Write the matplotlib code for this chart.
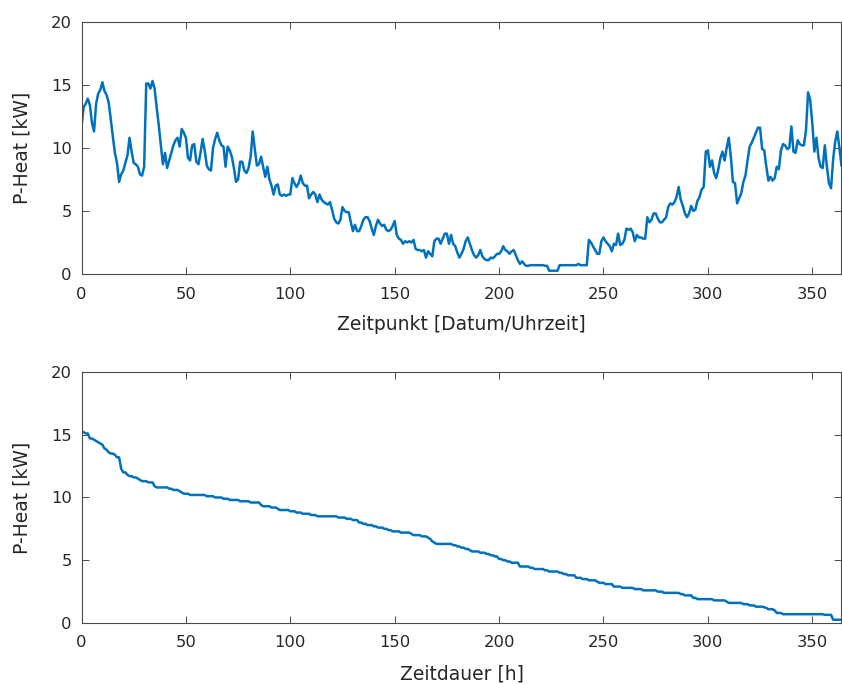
import numpy as np
import matplotlib.pyplot as plt

# daily heating power [kW] (day 0..364)
p_heat = [
    11.7, 13.2, 13.5, 13.9, 13.4, 12.0, 11.3, 13.5, 14.3, 14.6,
    15.2, 14.5, 14.2, 13.6, 12.3, 10.9, 9.6, 8.8, 7.3, 7.9,
    8.2, 8.8, 9.4, 10.8, 9.7, 8.8, 8.7, 8.5, 7.9, 7.8,
    8.5, 15.1, 15.1, 14.7, 15.3, 14.7, 13.2, 11.8, 10.2, 8.7,
    9.6, 8.4, 9.0, 9.6, 10.2, 10.6, 10.8, 10.1, 11.5, 11.2,
    10.8, 9.2, 9.0, 10.2, 10.3, 8.9, 8.7, 9.6, 10.7, 9.8,
    8.6, 8.3, 8.2, 10.0, 10.7, 11.2, 10.6, 10.2, 10.1, 8.5,
    10.1, 9.8, 9.3, 8.4, 7.3, 7.5, 8.9, 8.9, 8.2, 8.0,
    8.4, 9.3, 11.3, 9.9, 8.6, 8.7, 9.3, 8.5, 7.7, 8.5,
    7.5, 7.0, 6.3, 7.0, 7.1, 6.3, 6.2, 6.3, 6.2, 6.3,
    6.3, 7.6, 7.2, 6.9, 7.2, 7.8, 7.2, 7.0, 7.0, 6.0,
    6.3, 6.5, 6.3, 5.7, 6.3, 5.9, 5.7, 5.6, 5.5, 5.7,
    5.1, 4.4, 4.1, 4.0, 4.3, 5.3, 5.0, 4.9, 4.9, 4.1,
    3.4, 3.9, 3.4, 3.4, 3.8, 4.3, 4.5, 4.5, 4.2, 3.6,
    3.1, 3.8, 4.3, 4.0, 3.8, 3.9, 3.5, 3.4, 3.5, 3.8,
    4.2, 3.1, 2.8, 2.7, 2.4, 2.6, 2.5, 2.6, 2.5, 2.7,
    2.0, 1.9, 1.9, 1.8, 1.9, 1.3, 1.8, 1.6, 1.4, 2.6,
    2.8, 2.8, 2.4, 2.8, 3.2, 3.2, 2.4, 3.1, 2.4, 2.2,
    1.7, 1.3, 1.6, 2.0, 2.6, 2.9, 2.4, 1.9, 1.5, 1.3,
    1.5, 1.9, 1.4, 1.2, 1.1, 1.1, 1.3, 1.25, 1.4, 1.6,
    1.6, 1.8, 2.2, 1.9, 1.8, 1.6, 1.8, 1.9, 1.5, 1.1,
    0.8, 1.0, 0.8, 0.65, 0.65, 0.7, 0.7, 0.7, 0.7, 0.7,
    0.7, 0.7, 0.65, 0.65, 0.26, 0.26, 0.26, 0.26, 0.26, 0.7,
    0.7, 0.7, 0.7, 0.7, 0.7, 0.7, 0.7, 0.7, 0.8, 0.7,
    0.7, 0.7, 0.7, 2.7, 2.5, 2.2, 1.9, 1.6, 1.6, 2.6,
    2.9, 2.6, 2.4, 2.2, 1.8, 2.4, 2.3, 3.2, 2.3, 2.4,
    2.7, 3.6, 3.5, 3.6, 3.3, 2.6, 3.1, 2.9, 2.9, 2.8,
    2.8, 4.5, 4.1, 4.3, 4.8, 4.8, 4.4, 4.1, 4.1, 4.3,
    4.5, 5.3, 5.6, 5.5, 5.7, 6.1, 6.9, 5.9, 5.4, 4.8,
    4.5, 4.8, 5.4, 5.0, 5.1, 5.8, 6.1, 6.7, 6.9, 9.7,
    9.8, 8.5, 9.0, 8.0, 7.6, 8.3, 9.2, 9.7, 9.0, 10.0,
    10.8, 9.3, 7.3, 7.2, 5.6, 6.0, 6.4, 7.3, 7.8, 9.0,
    10.1, 10.4, 10.8, 11.2, 11.6, 11.6, 9.9, 9.8, 8.5, 7.4,
    7.7, 7.4, 7.6, 8.5, 8.3, 9.8, 10.3, 10.2, 9.9, 10.0,
    11.7, 9.7, 9.6, 10.6, 10.3, 10.2, 10.2, 11.4, 14.4, 13.8,
    12.0, 9.7, 10.8, 9.2, 8.5, 8.4, 10.2, 8.5, 7.2, 6.8,
    9.1, 10.5, 11.3, 10.0, 8.6,
]
p_heat = np.array(p_heat)
days = np.arange(len(p_heat))
# load duration curve = same values sorted from high to low
p_sorted = np.sort(p_heat)[::-1]
hours = np.arange(len(p_sorted))

xticks = [0, 50, 100, 150, 200, 250, 300, 350]
yticks = [0, 5, 10, 15, 20]

c_line = '#0072BD'
c_text = '#262626'
c_axis = '#4a4a4a'

fig = plt.figure(figsize=(8.42, 6.84), dpi=100)
ax1 = fig.add_axes([0.0968, 0.5994, 0.9026, 0.3689])
ax2 = fig.add_axes([0.0968, 0.0892, 0.9026, 0.3670])

def style(ax, xlabel):
    ax.set_xlim(0, 364)
    ax.set_ylim(0, 20)
    ax.set_xticks(xticks)
    ax.set_yticks(yticks)
    ax.tick_params(direction='in', length=5, width=0.7, color=c_axis,
                   labelcolor=c_text, labelsize=11.8, top=True, right=True)
    ax.tick_params(axis='x', pad=9)
    ax.tick_params(axis='y', pad=7)
    for s in ax.spines.values():
        s.set_color(c_axis)
        s.set_linewidth(0.8)
    ax.set_xlabel(xlabel, fontsize=13.5, color=c_text, labelpad=10)
    ax.set_ylabel('P-Heat [kW]', fontsize=13.5, color=c_text, labelpad=14)

ax1.plot(days, p_heat, color=c_line, linewidth=1.8)
style(ax1, 'Zeitpunkt [Datum/Uhrzeit]')

ax2.plot(hours, p_sorted, color=c_line, linewidth=1.8)
style(ax2, 'Zeitdauer [h]')

fig.savefig('out.png', dpi=100)
